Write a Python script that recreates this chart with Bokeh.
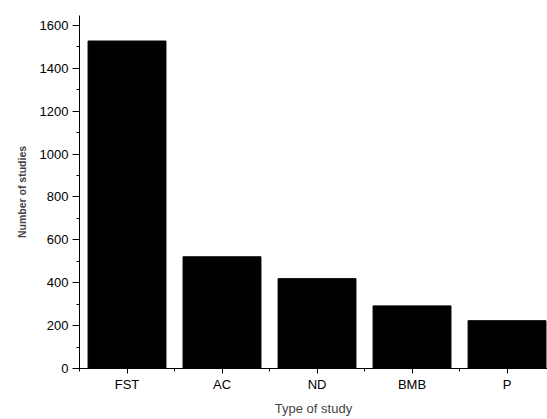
from bokeh.plotting import figure
from bokeh.models import FixedTicker, Range1d, ColumnDataSource
from bokeh.embed import file_html
from bokeh.resources import INLINE

categories = ["FST", "AC", "ND", "BMB", "P"]
counts = [1527, 521, 419, 292, 223]
y_ticks = [0, 200, 400, 600, 800, 1000, 1200, 1400, 1600]
y_minor = [100, 300, 500, 700, 900, 1100, 1300, 1500]

positions = list(range(1, len(categories) + 1))
src = ColumnDataSource(dict(x=positions, top=counts, name=categories))

FONT = "Liberation Sans"

p = figure(width=547, height=419, output_backend="svg", toolbar_location=None,
           x_range=Range1d(0.5, 5.426), y_range=Range1d(0, 1646),
           min_border_left=79, min_border_right=0, min_border_top=15, min_border_bottom=51)
p.outline_line_color = None
p.grid.visible = False
p.background_fill_color = "white"
p.border_fill_color = "white"

p.vbar(x="x", top="top", width=0.82, source=src, fill_color="black", line_color="black")

xa = p.xaxis[0]
xa.ticker = FixedTicker(ticks=positions, minor_ticks=[0.5, 1.5, 2.5, 3.5, 4.5])
xa.major_label_overrides = {pos: c for pos, c in zip(positions, categories)}
xa.axis_label = "Type of study"
xa.axis_label_text_font = FONT
xa.axis_label_text_font_style = "normal"
xa.axis_label_text_font_size = "13px"
xa.axis_label_standoff = 6
xa.major_label_text_font = FONT
xa.major_label_text_font_size = "13px"
xa.major_label_text_color = "black"
xa.major_label_standoff = 3
xa.major_tick_in = 0
xa.major_tick_out = 5
xa.minor_tick_in = 0
xa.minor_tick_out = 3
xa.axis_line_color = "black"
xa.major_tick_line_color = "black"
xa.minor_tick_line_color = "black"

ya = p.yaxis[0]
ya.ticker = FixedTicker(ticks=y_ticks, minor_ticks=y_minor)
ya.axis_label = "Number of studies"
ya.axis_label_text_font = FONT
ya.axis_label_text_font_style = "bold"
ya.axis_label_text_font_size = "10.5px"
ya.axis_label_standoff = 9
ya.major_label_text_font = FONT
ya.major_label_text_font_size = "13px"
ya.major_label_text_color = "black"
ya.major_label_standoff = 4
ya.major_tick_in = 0
ya.major_tick_out = 7
ya.minor_tick_in = 0
ya.minor_tick_out = 3
ya.axis_line_color = "black"
ya.major_tick_line_color = "black"
ya.minor_tick_line_color = "black"

open("out.html", "w").write(file_html(p, INLINE))
